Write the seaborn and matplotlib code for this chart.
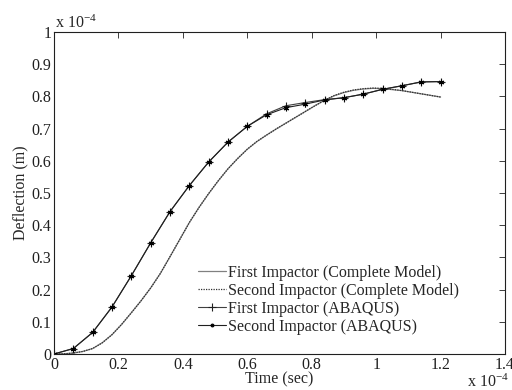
import numpy as np
import pandas as pd
import matplotlib
matplotlib.use("Agg")
import matplotlib.pyplot as plt
import seaborn as sns

# time in units of 1e-4 s, deflection in units of 1e-4 m
model_time = [0, 0.03, 0.06, 0.09, 0.12, 0.15, 0.18, 0.21, 0.24, 0.27, 0.30,
              0.33, 0.36, 0.39, 0.42, 0.45, 0.48, 0.51, 0.54, 0.57, 0.60,
              0.63, 0.66, 0.69, 0.72, 0.75, 0.78, 0.81, 0.84, 0.87, 0.90,
              0.93, 0.96, 0.99, 1.02, 1.05, 1.08, 1.11, 1.14, 1.17, 1.20]
first_model = [0, 0.0005, 0.003, 0.008, 0.017, 0.035, 0.060, 0.092, 0.128, 0.165, 0.205,
               0.250, 0.302, 0.355, 0.408, 0.455, 0.498, 0.538, 0.575, 0.607, 0.636,
               0.660, 0.680, 0.699, 0.717, 0.735, 0.753, 0.771, 0.788, 0.802, 0.812,
               0.819, 0.823, 0.825, 0.824, 0.821, 0.818, 0.813, 0.808, 0.803, 0.798]
second_model = [0, 0.0005, 0.003, 0.008, 0.017, 0.035, 0.060, 0.092, 0.128, 0.165, 0.205,
                0.250, 0.302, 0.355, 0.408, 0.455, 0.498, 0.538, 0.575, 0.607, 0.636,
                0.660, 0.680, 0.699, 0.717, 0.735, 0.753, 0.771, 0.788, 0.803, 0.813,
                0.820, 0.824, 0.826, 0.825, 0.822, 0.818, 0.813, 0.808, 0.803, 0.798]

abaqus_time = [0, 0.06, 0.12, 0.18, 0.24, 0.30, 0.36, 0.42, 0.48, 0.54, 0.60,
               0.66, 0.72, 0.78, 0.84, 0.90, 0.96, 1.02, 1.08, 1.14, 1.20]
first_abaqus = [0, 0.017, 0.067, 0.146, 0.243, 0.345, 0.442, 0.523, 0.596, 0.658, 0.707,
                0.746, 0.771, 0.781, 0.790, 0.796, 0.807, 0.822, 0.833, 0.845, 0.846]
second_abaqus = [0, 0.017, 0.067, 0.146, 0.243, 0.345, 0.442, 0.523, 0.596, 0.658, 0.707,
                 0.743, 0.765, 0.776, 0.789, 0.796, 0.807, 0.822, 0.833, 0.845, 0.846]

labels = ["First Impactor (Complete Model)", "Second Impactor (Complete Model)",
          "First Impactor (ABAQUS)", "Second Impactor (ABAQUS)"]
x_ticks = [0, 0.2, 0.4, 0.6, 0.8, 1.0, 1.2, 1.4]
x_tick_labels = ["0", "0.2", "0.4", "0.6", "0.8", "1", "1.2", "1.4"]
y_ticks = [0, 0.1, 0.2, 0.3, 0.4, 0.5, 0.6, 0.7, 0.8, 0.9, 1.0]
y_tick_labels = ["0", "0.1", "0.2", "0.3", "0.4", "0.5", "0.6", "0.7", "0.8", "0.9", "1"]

sns.set_style("white")
plt.rcParams["font.family"] = ["Liberation Serif", "DejaVu Serif"]
plt.rcParams["mathtext.fontset"] = "custom"
plt.rcParams["mathtext.rm"] = "Liberation Serif"
plt.rcParams["mathtext.it"] = "Liberation Serif:italic"

fig = plt.figure(figsize=(5.12, 3.9), dpi=100)
ax = fig.add_axes([54/512, 36/390, 451/512, 322/390])

sns.lineplot(x=model_time, y=first_model, ax=ax, color="#808080", lw=0.9, label=labels[0])
sns.lineplot(x=model_time, y=second_model, ax=ax, color="#303030", lw=0.9, ls=(0, (1, 1)),
             label=labels[1])
sns.lineplot(x=abaqus_time, y=first_abaqus, ax=ax, color="#404040", lw=0.8, marker="+",
             markersize=6, markeredgewidth=0.8, markeredgecolor="#202020", label=labels[2])
sns.lineplot(x=abaqus_time, y=second_abaqus, ax=ax, color="#202020", lw=0.8, marker=(6, 2, 0),
             markersize=4, markeredgewidth=0.8, markeredgecolor="black",
             markerfacecolor="black", label=labels[3])

ax.set_xlim(0, 1.4)
ax.set_ylim(0, 1.0)
ax.set_xticks(x_ticks)
ax.set_xticklabels(x_tick_labels)
ax.set_yticks(y_ticks)
ax.set_yticklabels(y_tick_labels)
ax.tick_params(direction="in", length=4, width=0.6, labelsize=11.5, colors="#202020",
               top=True, right=True, pad=2)
for s in ax.spines.values():
    s.set_color("#202020")
    s.set_linewidth(0.8)

ax.set_xlabel("Time (sec)", fontsize=11.5, labelpad=-1)
ax.set_ylabel("Deflection (m)", fontsize=11.5, labelpad=2)

leg = ax.legend(loc="upper left", bbox_to_anchor=((198-54)/451, (354-265)/322),
                frameon=False, fontsize=11.5, borderpad=0, borderaxespad=0,
                handlelength=1.75, handletextpad=0.15, labelspacing=0.12)
for h in leg.legend_handles:
    if h.get_marker() == (6, 2, 0):
        h.set_marker(".")
        h.set_markersize(4)

fig.text(55/512, 1 - 28/390, r"x 10$^{-4}$", fontsize=11.5, ha="left", va="baseline")
fig.text(467/512, 1 - 387/390, r"x 10$^{-4}$", fontsize=11.5, ha="left", va="baseline")

fig.savefig("out.png", dpi=100)
